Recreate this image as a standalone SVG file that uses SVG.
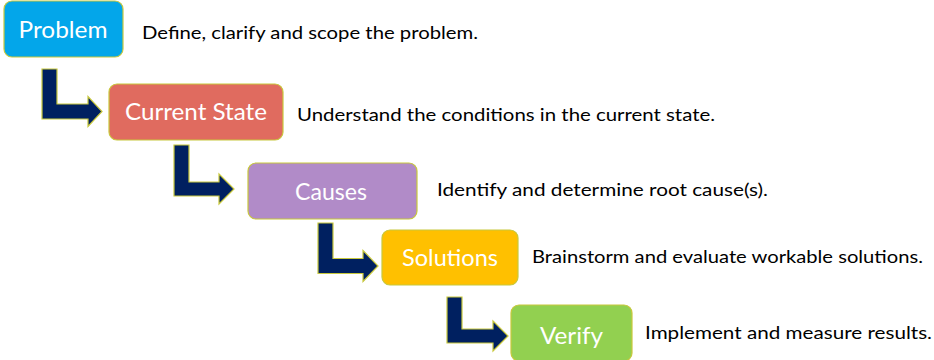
<svg xmlns="http://www.w3.org/2000/svg" width="934" height="360" viewBox="0 0 934 360">
<style>
.box{stroke:#C8C83C;stroke-width:1.2}
.lbl{font-family:Lato,"Open Sans","Liberation Sans",sans-serif;font-size:23px;fill:#FFFFFF;text-anchor:middle}
.desc{font-family:Lato,"Open Sans","Liberation Sans",sans-serif;font-size:16.5px;fill:#000000}
.arr{fill:#002060;stroke:#C8C83C;stroke-width:1.2;stroke-linejoin:miter}
</style>
<rect width="934" height="360" fill="#FFFFFF"/>
<g id="connectors">
<path class="arr" d="M42,69 H57 V104 H88 V96.5 L102,111.5 L88,126.5 V119 H42 Z"/>
<path class="arr" d="M174,145 H189 V182 H219 V174 L234,189 L219,204 V196 H174 Z"/>
<path class="arr" d="M318,223 H333 V258.5 H363 V250.5 L378,266 L363,281.5 V273.5 H318 Z"/>
<path class="arr" d="M447,297 H462 V329 H493 V321 L508,336 L493,351 V343 H447 Z"/>
</g>
<g id="problem">
<rect class="box" x="4" y="1" width="119" height="56" rx="8" fill="#03A6EA"/>
<text class="lbl" x="63" y="38" textLength="89" lengthAdjust="spacingAndGlyphs">Problem</text>
<text class="desc" x="142" y="39" textLength="336" lengthAdjust="spacingAndGlyphs">Define, clarify and scope the problem.</text>
</g>
<g id="current-state">
<rect class="box" x="109" y="84" width="174" height="56" rx="8" fill="#E06B5F"/>
<text class="lbl" x="196" y="120" textLength="142" lengthAdjust="spacingAndGlyphs">Current State</text>
<text class="desc" x="297" y="121" textLength="418" lengthAdjust="spacingAndGlyphs">Understand the conditions in the current state.</text>
</g>
<g id="causes">
<rect class="box" x="248" y="163" width="169" height="56" rx="8" fill="#B18BC8"/>
<text class="lbl" x="331" y="200" textLength="72" lengthAdjust="spacingAndGlyphs">Causes</text>
<text class="desc" x="437" y="196" textLength="331" lengthAdjust="spacingAndGlyphs">Identify and determine root cause(s).</text>
</g>
<g id="solutions">
<rect class="box" x="382" y="230" width="136" height="55" rx="8" fill="#FFC000"/>
<text class="lbl" x="450" y="266" textLength="96" lengthAdjust="spacingAndGlyphs">Solutions</text>
<text class="desc" x="532" y="263" textLength="391" lengthAdjust="spacingAndGlyphs">Brainstorm and evaluate workable solutions.</text>
</g>
<g id="verify">
<rect class="box" x="511" y="305" width="121" height="56" rx="8" fill="#92D050"/>
<text class="lbl" x="571.5" y="344" textLength="63" lengthAdjust="spacingAndGlyphs">Verify</text>
<text class="desc" x="645" y="339" textLength="287" lengthAdjust="spacingAndGlyphs">Implement and measure results.</text>
</g>
</svg>
